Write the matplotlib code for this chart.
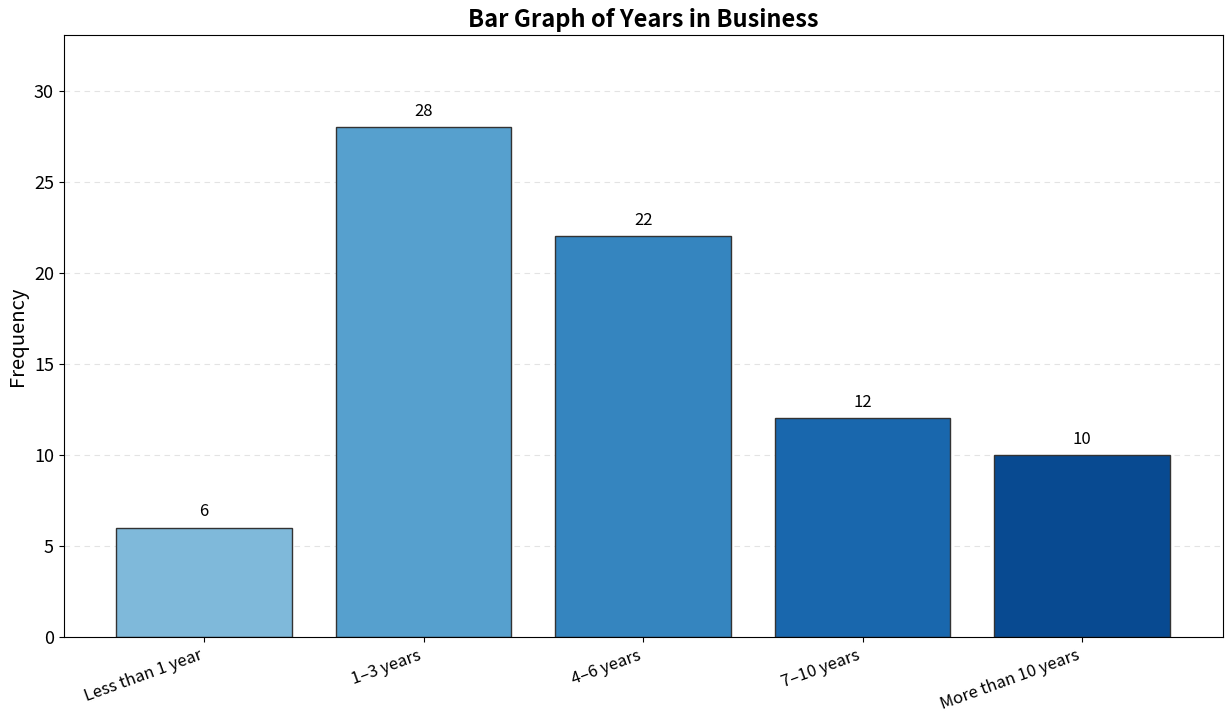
import numpy as np
import matplotlib.pyplot as plt

plt.rcParams['font.family'] = ['Noto Sans CJK JP', 'DejaVu Sans']

categories = ['Less than 1 year', '1–3 years', '4–6 years', '7–10 years', 'More than 10 years']
frequency = [6, 28, 22, 12, 10]

colors = plt.cm.Blues(np.linspace(0.45, 0.9, len(categories)))

fig, ax = plt.subplots(figsize=(12.25, 7.19), dpi=100)
bars = ax.bar(categories, frequency, color=colors, edgecolor='#333333', linewidth=1)

for b, v in zip(bars, frequency):
    ax.text(b.get_x() + b.get_width() / 2, v + 0.4, str(v),
            ha='center', va='bottom', fontsize=12)

ax.set_ylim(0, max(frequency) * 1.18)
ax.set_ylabel('Frequency', fontsize=14.5)
ax.set_title('Bar Graph of Years in Business', fontsize=17, fontweight='bold')
ax.yaxis.grid(True, linestyle=(0, (5, 4)), color='#dddddd', alpha=0.8)
ax.set_axisbelow(True)
ax.tick_params(axis='y', labelsize=13)
plt.setp(ax.get_xticklabels(), rotation=20, ha='right', fontsize=12)

fig.subplots_adjust(left=0.052, right=0.998, top=0.951, bottom=0.114)
fig.savefig('out.png')
